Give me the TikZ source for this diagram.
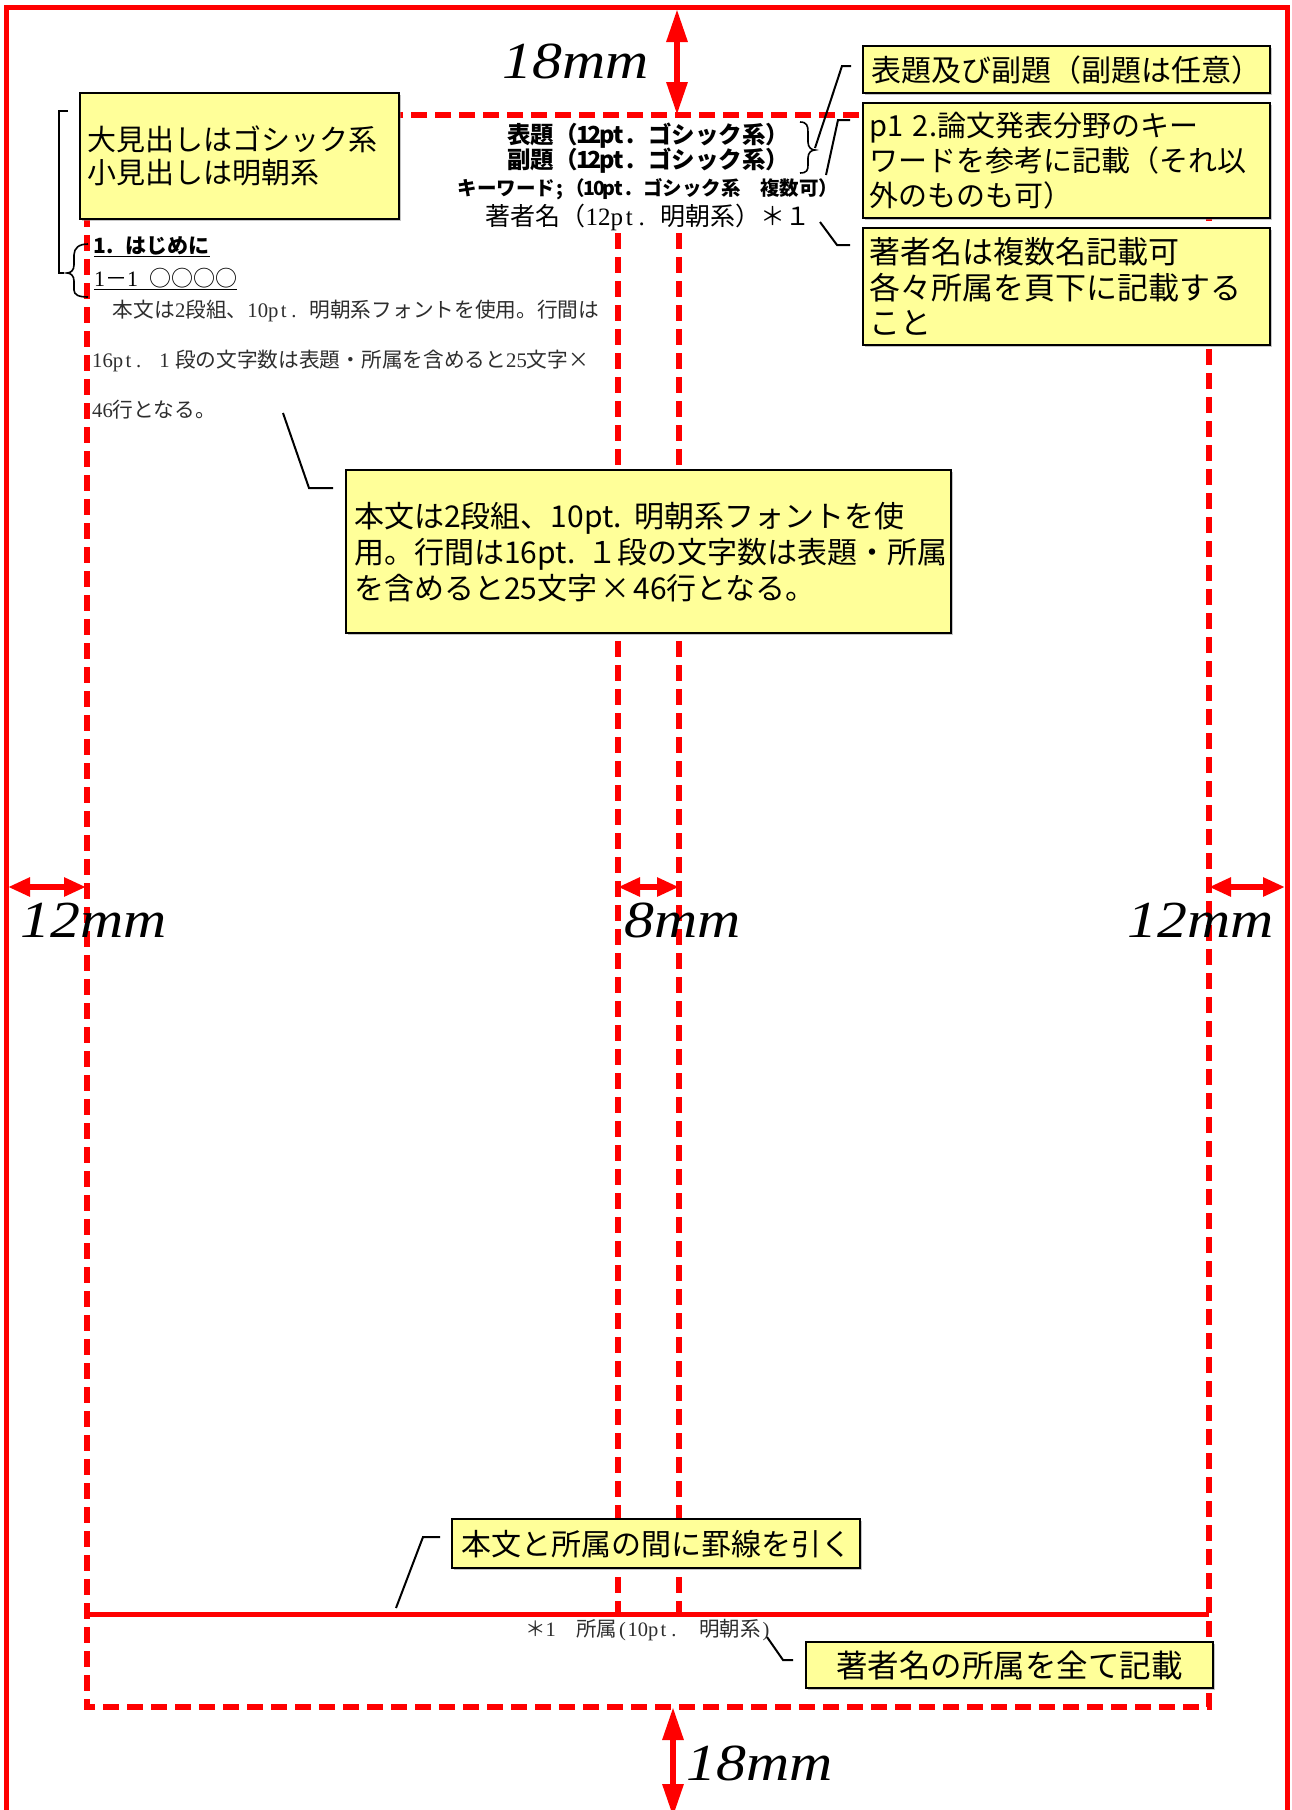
\documentclass[tikz,border=0pt]{standalone}
\usepackage{fontspec}
\setmainfont{Liberation Serif}
\newfontfamily\jp{Noto Sans CJK JP}
\newfontfamily\lser{Liberation Serif}
\usetikzlibrary{arrows.meta,shadows}
\definecolor{yfill}{HTML}{FFFF99}
\definecolor{rd}{HTML}{FF0000}
\newcommand\hw[1]{\hwloop#1\relax}
\def\hwloop#1{\ifx\relax#1\else\makebox[0.5em]{#1}\expandafter\hwloop\fi}
\newcommand\fsz[2]{\fontsize{#1}{#2}\selectfont}
\begin{document}
\begin{tikzpicture}[x=1pt,y=-1pt,
  outerframe/.style={draw=rd, line width=5pt},
  dashred/.style={draw=rd, line width=5.5pt, dash pattern=on 16pt off 8pt},
  sepline/.style={draw=rd, line width=5pt},
  dimv/.style={draw=rd, line width=6pt, {Triangle[length=33pt,width=20pt]}-{Triangle[length=33pt,width=20pt]}},
  dimh/.style={draw=rd, line width=6pt, {Triangle[length=22pt,width=18pt]}-{Triangle[length=22pt,width=18pt]}},
  dimlab/.style={inner sep=0pt, anchor=base west, font=\lser\itshape\fsz{52}{52}},
  ybox/.style={draw=black, line width=2.4pt, fill=yfill, drop shadow={shadow xshift=2pt,shadow yshift=-2pt,fill=black!45}, anchor=north west, inner ysep=0pt, inner xsep=6pt, align=left},
  lead/.style={draw=black, line width=2pt},
  brk/.style={draw=black, line width=1.6pt},
  ttl/.style={inner sep=0pt, anchor=base},
  bodytxt/.style={inner sep=0pt, anchor=base west, text=black!82, font=\jp\fsz{20.7}{20.7}},
  head/.style={inner sep=0pt, anchor=base west, text=black},
]
\path[use as bounding box, fill=white] (0,0) rectangle (1291,1810);

% page layout lines
\draw[dashred] (87,115) rectangle (1209,1707);
\draw[dashred] (618,233) -- (618,1614);
\draw[dashred] (679,233) -- (679,1614);
\draw[sepline] (87,1614) -- (1209,1614);
\draw[outerframe] (6,1860) -- (6,7) -- (1287,7) -- (1287,1860);

% dimension arrows
\draw[dimv] (677,9) -- (677,115);
\draw[dimv] (673,1707) -- (673,1817);
\draw[dimh] (8,887) -- (86,887);
\draw[dimh] (618,887) -- (679,887);
\draw[dimh] (1209,887) -- (1285,887);

\node[dimlab] (lt) at (502,78) {\scalebox{1.15}[1]{18mm}};
\node[dimlab] (ll) at (20,937) {\scalebox{1.15}[1]{12mm}};
\node[dimlab] (lm) at (624,937) {\scalebox{1.15}[1]{8mm}};
\node[dimlab] (lr) at (1127,937) {\scalebox{1.15}[1]{12mm}};
\node[dimlab] (lb) at (686,1780) {\scalebox{1.15}[1]{18mm}};

% title block
\node[ttl, font=\jp\bfseries\fsz{23.5}{23.5}] (t1) at (648,143) {表題（\hw{12pt.}\hspace{0.5em}ゴシック系）};
\node[ttl, font=\jp\bfseries\fsz{23.5}{23.5}] (t2) at (648,168) {副題（\hw{12pt.}\hspace{0.5em}ゴシック系）};
\node[ttl, font=\jp\bfseries\fsz{19.5}{19.5}] (t3) at (648,195) {キーワード\hw{;}（\hw{10pt.}\hspace{0.5em}ゴシック系　複数可）};
\node[ttl, font=\jp\fsz{25}{25}, text=black] (t4) at (648,225.5) {著者名（{\lser\hw{12pt.}}\hspace{0.5em}明朝系）＊１};

% headings
\node[head, font=\jp\bfseries\fsz{21}{21}] (h1) at (94,253) {\hw{1.}\hspace{0.5em}はじめに};
\node[head, font=\jp\fsz{22}{22}] (h2) at (94,286) {{\lser\hw{1}}－{\lser\hw{1}}\hspace{0.5em}○○○○};
\draw[line width=1.8pt] ([yshift=-3.5pt]h1.base west) -- ([yshift=-3.5pt]h1.base east);
\draw[line width=1.8pt] ([yshift=-3.5pt]h2.base west) -- ([yshift=-3.5pt]h2.base east);

% body text
\node[bodytxt] (p1) at (92,317) {　本文は{\lser\hw{2}}段組、{\lser\hw{10pt.}}\hspace{0.5em}明朝系フォントを使用。行間は};
\node[bodytxt] (p2) at (92,367) {{\lser\hw{16pt.}}\hspace{0.5em}{\lser\makebox[1em]{1}}段の文字数は表題・所属を含めると{\lser\hw{25}}文字\makebox[1em]{×}};
\node[bodytxt] (p3) at (92,417) {{\lser\hw{46}}行となる。};

% footnote
\node[bodytxt, font=\jp\fsz{20.5}{20.5}] (fn) at (525,1636) {＊{\lser\hw{1}}　所属{\lser\hw{(10pt.}}　明朝系{\lser\hw{)}}};

% braces
\draw[brk] (800,122) .. controls (807,122) and (808,126) .. (808,132) -- (808,142) .. controls (808,147) and (811,150) .. (815,150) .. controls (811,150) and (808,153) .. (808,158) -- (808,165) .. controls (808,170) and (807,173) .. (800,173);
\draw[brk] (88,244) .. controls (79,244) and (74,248) .. (74,255) -- (74,265) .. controls (74,270) and (71,273) .. (67,273) .. controls (71,273) and (74,276) .. (74,281) -- (74,290) .. controls (74,295) and (79,297) .. (88,297);
\draw[brk] (68,111) -- (59,111) -- (59,273) -- (64,273);

% yellow boxes
\node[ybox, text width=395pt, minimum height=47pt, align=center, font=\jp\fsz{30}{30}] (b1) at (862,45) {表題及び副題（副題は任意）};
\node[ybox, text width=395pt, minimum height=115pt, font=\jp\fsz{29}{35}] (b2) at (862,102) {p1 2.論文発表分野のキー\\ワードを参考に記載（それ以\\外のものも可）};
\node[ybox, text width=395pt, minimum height=117pt, font=\jp\fsz{31}{35.5}] (b3) at (862,227) {著者名は複数名記載可\\各々所属を頁下に記載する\\こと};
\node[ybox, inner xsep=7pt, text width=305pt, minimum height=126pt, font=\jp\fsz{29}{33}] (b4) at (79,92) {大見出しはゴシック系\\小見出しは明朝系};
\node[ybox, inner xsep=8pt, text width=589pt, minimum height=163pt, font=\jp\fsz{30}{36}] (b5) at (345,469) {本文は2段組、10pt.\kern0.4em 明朝系フォントを使\\用。行間は16pt.\kern0.4em １段の文字数は表題・所属\\を含めると25文字\kern0.1em ×\kern0.1em 46行となる。};
\node[ybox, text width=396pt, minimum height=49pt, align=center, font=\jp\fsz{30}{30}] (b6) at (451,1518) {本文と所属の間に罫線を引く};
\node[ybox, text width=395pt, minimum height=46pt, align=center, font=\jp\fsz{31.5}{31.5}] (b7) at (805,1641) {著者名の所属を全て記載};

% leader lines
\coordinate (c1a) at (851,66); \coordinate (c1b) at (842,66); \coordinate (c1c) at (815,148);
\draw[lead] (c1a) -- (c1b) -- (c1c);
\coordinate (c2a) at (850,120); \coordinate (c2b) at (838,120); \coordinate (c2c) at (826,175);
\draw[lead] (c2a) -- (c2b) -- (c2c);
\coordinate (c3a) at (850,245); \coordinate (c3b) at (837,245); \coordinate (c3c) at (820,222);
\draw[lead] (c3a) -- (c3b) -- (c3c);
\coordinate (c5a) at (333,488); \coordinate (c5b) at (309,488); \coordinate (c5c) at (283,413);
\draw[lead] (c5a) -- (c5b) -- (c5c);
\coordinate (c6a) at (440,1537); \coordinate (c6b) at (423,1537); \coordinate (c6c) at (396,1608);
\draw[lead] (c6a) -- (c6b) -- (c6c);
\coordinate (c7a) at (793,1660); \coordinate (c7b) at (783,1660); \coordinate (c7c) at (767,1637);
\draw[lead] (c7a) -- (c7b) -- (c7c);
\end{tikzpicture}
\end{document}
